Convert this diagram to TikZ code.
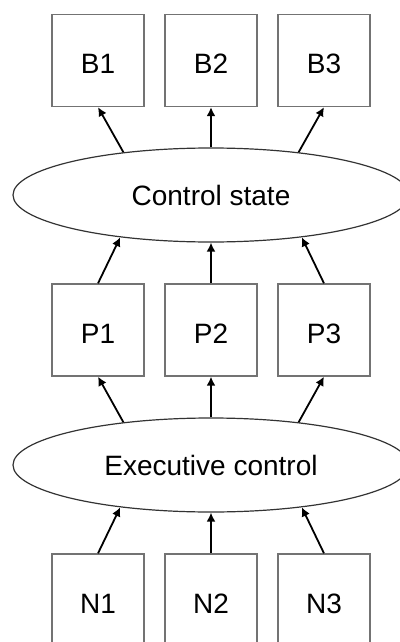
\documentclass[tikz,border=0pt]{standalone}
\usepackage{fontspec}
\setmainfont{Liberation Sans}
\usetikzlibrary{arrows.meta,shapes}
\tikzstyle{box}=[rectangle,draw=black!55,line width=1.3pt,minimum width=92pt,minimum height=92pt,inner sep=0pt,text height=26pt,text depth=0pt,font=\fontsize{28}{33}\selectfont]
\tikzstyle{state}=[ellipse,draw=black!80,line width=1.2pt,minimum width=396pt,minimum height=94pt,inner sep=0pt,font=\fontsize{28}{33}\selectfont]
\tikzstyle{link} = [draw,line width=1.8pt,-{Latex[length=9pt,width=9pt]}]

\begin{document}
\begin{tikzpicture}[x=1pt,y=-1pt]
    \useasboundingbox (0,0) rectangle (399,642);
    % First we draw the boxes
    \foreach \pos/\name in {{(98,60.5)/B1}, {(211,60.5)/B2}, {(324,60.5)/B3}, {(98,330)/P1}, {(211,330)/P2}, {(324,330)/P3}, {(98,600)/N1}, {(211,600)/N2}, {(324,600)/N3}}
        \node[box] (\name) at \pos {\name};

    % Then the two ellipses
    \node[state] (cs) at (211,195) {Control state};
    \node[state] (ec) at (211,465) {Executive control};

    % Connect them with arrows
    \foreach \source/ \dest in {cs.154/B1.south, cs.north/B2.south, cs.26/B3.south, P1.north/cs.205, P2.north/cs.south, P3.north/cs.335, ec.154/P1.south, ec.north/P2.south, ec.26/P3.south, N1.north/ec.205, N2.north/ec.south, N3.north/ec.335}
        \path[link] (\source) -- (\dest) ;

\end{tikzpicture}
\end{document}
